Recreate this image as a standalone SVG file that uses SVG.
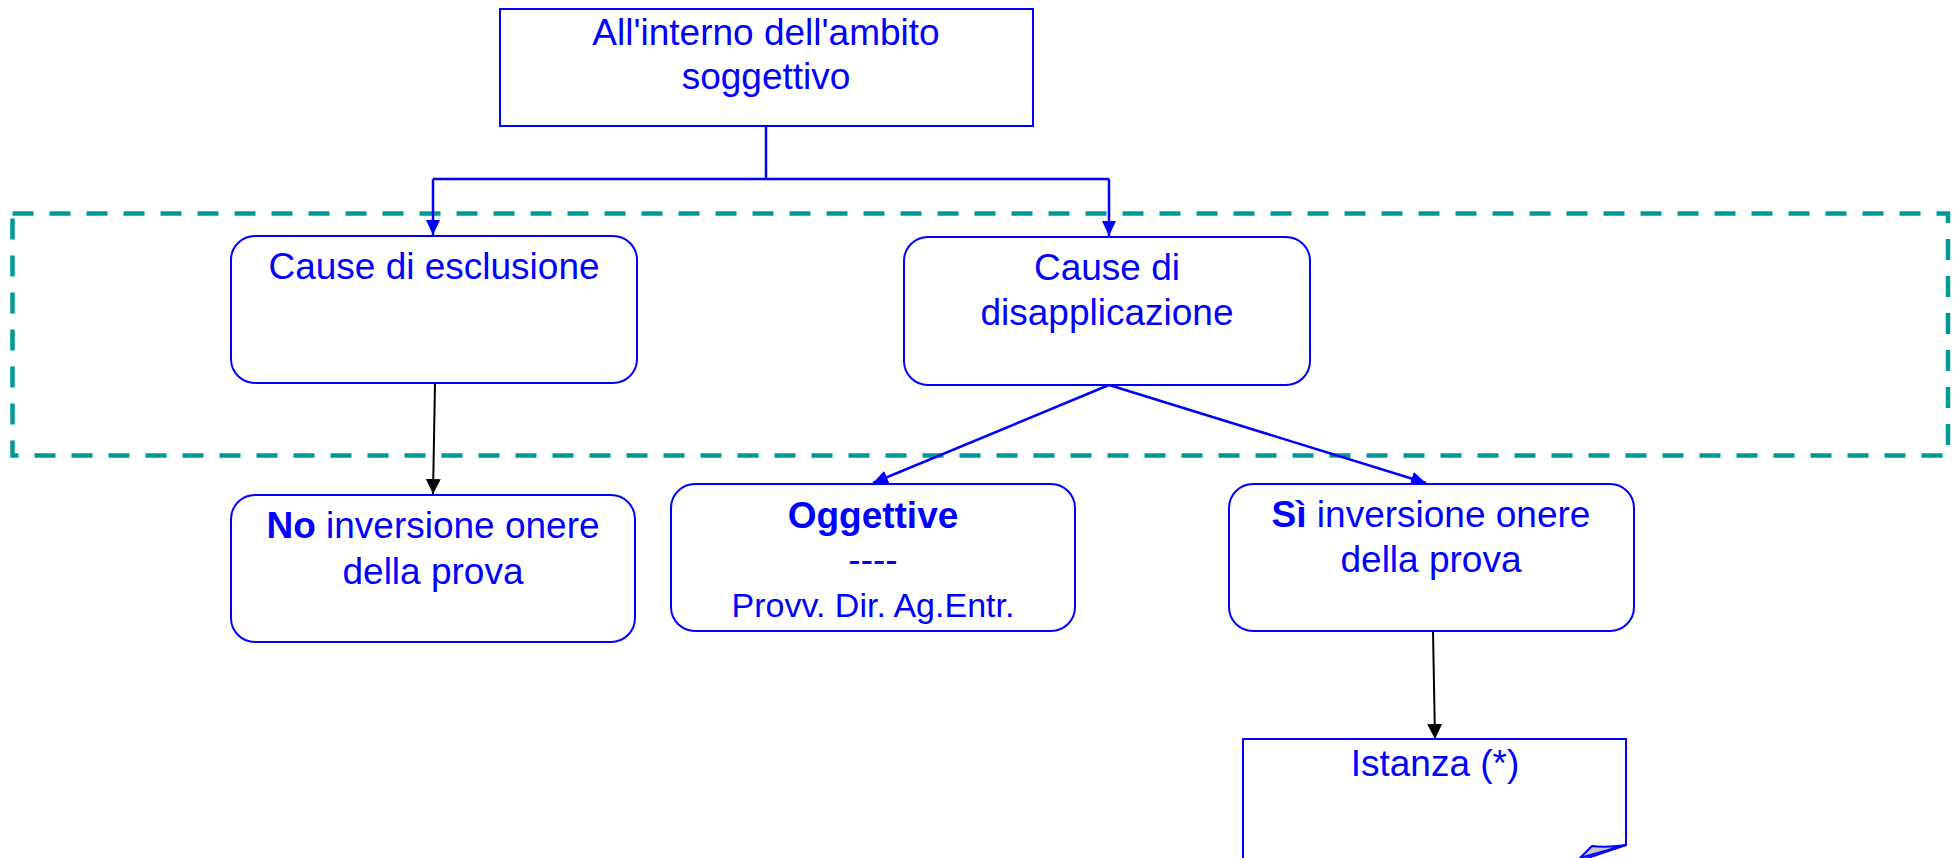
<svg xmlns="http://www.w3.org/2000/svg" width="1958" height="858" viewBox="0 0 1958 858">
<style>
.box{fill:#FFFFFF;stroke:#0000FF;stroke-width:2}
.t{font-family:"Liberation Sans",Arial,sans-serif;font-size:37px;fill:#0000FF;text-anchor:middle}
.b{font-weight:bold}
.cb{fill:none;stroke:#0000FF;stroke-width:2.5}
.ck{fill:none;stroke:#000000;stroke-width:2}
</style>
<defs>
<marker id="ab" viewBox="0 0 15 14" markerWidth="15" markerHeight="14" refX="15" refY="7" orient="auto" markerUnits="userSpaceOnUse"><path d="M0,0 L15,7 L0,14 z" fill="#0000FF"/></marker>
<marker id="ak" viewBox="0 0 15 15" markerWidth="15" markerHeight="15" refX="15" refY="7.5" orient="auto" markerUnits="userSpaceOnUse"><path d="M0,0 L15,7.5 L0,15 z" fill="#000000"/></marker>
</defs>
<rect width="1958" height="858" fill="#FFFFFF"/>
<rect id="group-frame" x="12.5" y="213.5" width="1935.5" height="242" fill="none" stroke="#009999" stroke-width="4.5" stroke-dasharray="21 16"/>
<g id="connectors">
<path class="cb" d="M766,126 V179" stroke-width="4"/>
<path class="cb" d="M433,179 H1109"/>
<path class="cb" d="M433,179 V235" marker-end="url(#ab)"/>
<path class="cb" d="M1109,179 V236" marker-end="url(#ab)"/>
<path class="ck" d="M435,383 L433,494" marker-end="url(#ak)"/>
<path class="cb" d="M1109,385 L873,483" marker-end="url(#ab)"/>
<path class="cb" d="M1109,385 L1426,483" marker-end="url(#ab)"/>
<path class="ck" d="M1433,631 L1435,739" stroke-width="2.5" marker-end="url(#ak)"/>
</g>
<g id="node-top">
<rect class="box" x="500" y="9" width="533" height="117"/>
<text class="t" x="766" y="45">All'interno dell'ambito</text>
<text class="t" x="766" y="89">soggettivo</text>
</g>
<g id="node-esclusione">
<rect class="box" x="231" y="236" width="406" height="147" rx="24"/>
<text class="t" x="434" y="279">Cause di esclusione</text>
</g>
<g id="node-disapplicazione">
<rect class="box" x="904" y="237" width="406" height="148" rx="24"/>
<text class="t" x="1107" y="280">Cause di</text>
<text class="t" x="1107" y="325">disapplicazione</text>
</g>
<g id="node-no">
<rect class="box" x="231" y="495" width="404" height="147" rx="24"/>
<text class="t" x="433" y="538"><tspan class="b">No</tspan> inversione onere</text>
<text class="t" x="433" y="584">della prova</text>
</g>
<g id="node-oggettive">
<rect class="box" x="671" y="484" width="404" height="147" rx="24"/>
<text class="t b" x="873" y="528">Oggettive</text>
<text class="t" x="873" y="572">----</text>
<text class="t" x="873" y="617" style="font-size:34px">Provv. Dir. Ag.Entr.</text>
</g>
<g id="node-si">
<rect class="box" x="1229" y="484" width="405" height="147" rx="24"/>
<text class="t" x="1431" y="527"><tspan class="b">Sì</tspan> inversione onere</text>
<text class="t" x="1431" y="572">della prova</text>
</g>
<g id="node-istanza">
<path d="M1243,880 V739 H1626 V845 L1576,862" fill="#FFFFFF" stroke="#0000FF" stroke-width="2"/>
<path d="M1626,845 Q1606,848 1592,846 L1580,858 Z" fill="#C8C8C8" stroke="#0000FF" stroke-width="2" stroke-linejoin="round"/>
<text class="t" x="1435" y="776">Istanza (*)</text>
</g>
</svg>
